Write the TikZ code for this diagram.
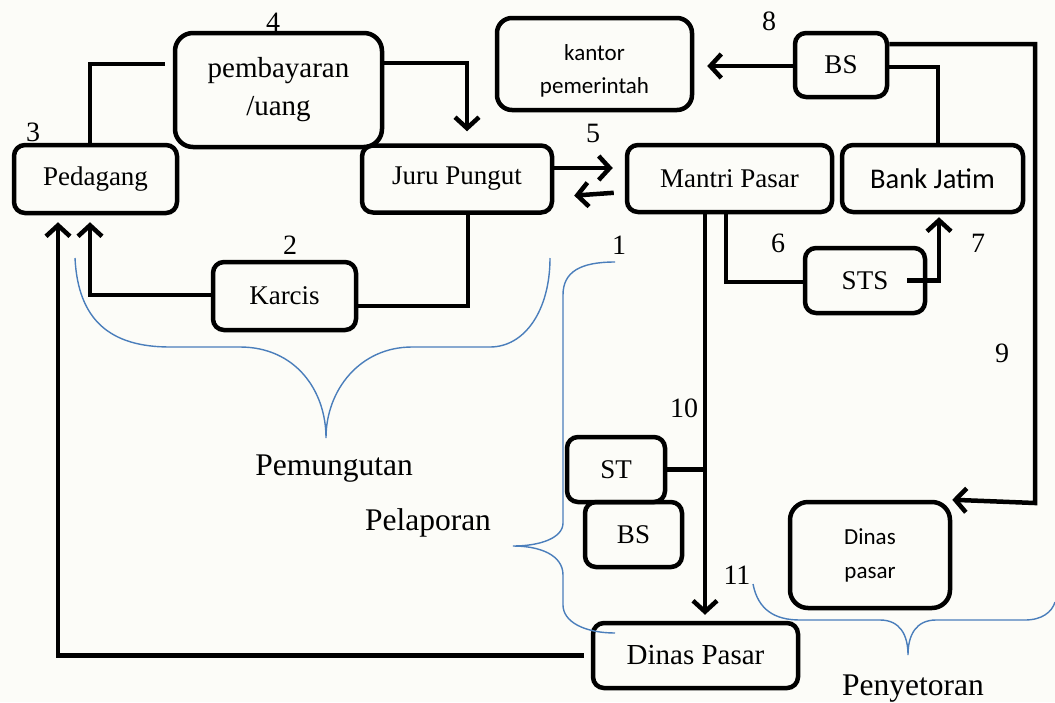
\documentclass[tikz,border=0pt]{standalone}
\usepackage{fontspec}
\setmainfont{Liberation Serif}
\newfontfamily\calibri{Carlito}
\usetikzlibrary{arrows.meta}
\definecolor{biru}{RGB}{74,126,187}
\definecolor{latar}{RGB}{252,252,248}

\begin{document}
\begin{tikzpicture}[x=1pt, y=-1pt,
  kotak/.style={draw, line width=4.5pt, rounded corners=11pt, inner sep=0pt, align=center, font=\fontsize{27}{32}\selectfont},
  garis/.style={draw, line width=4.5pt},
  panah/.style={garis, -{Straight Barb[length=11pt,width=24pt]}},
  kurung/.style={draw=biru, line width=1.4pt},
  angka/.style={font=\fontsize{28}{30}\selectfont, inner sep=0pt},
  judul/.style={font=\fontsize{31.5}{34}\selectfont, inner sep=0pt, anchor=base}]

\useasboundingbox (0,0) rectangle (1055,702);
\fill[latar] (0,0) rectangle (1055,702);

% kotak-kotak
\node[kotak, minimum width=163pt, minimum height=68pt] (pedagang) at (95.5,179) {Pedagang};
\node[kotak, minimum width=207pt, minimum height=114pt, rounded corners=18pt, font=\fontsize{29}{38}\selectfont] (bayar) at (278.5,90) {pembayaran\\/uang};
\node[kotak, minimum width=190pt, minimum height=67pt] (juru) at (457,179) {Juru Pungut};
\node[kotak, minimum width=205pt, minimum height=67pt] (mantri) at (729.5,178.5) {Mantri Pasar};
\node[kotak, minimum width=181pt, minimum height=67pt, font=\calibri\fontsize{28.5}{32}\selectfont] (bank) at (932.5,178.5) {Bank Jatim};
\node[kotak, minimum width=195pt, minimum height=92pt, rounded corners=15pt, font=\calibri\fontsize{23}{33}\selectfont] (kantor) at (594.5,64) {\rule{0pt}{30pt}kantor\\pemerintah};
\node[kotak, minimum width=92pt, minimum height=64pt] (bsatas) at (841,65) {BS};
\node[kotak, minimum width=143pt, minimum height=68pt] (karcis) at (284.5,296) {Karcis};
\node[kotak, minimum width=120pt, minimum height=65pt] (sts) at (865,280.5) {STS};
\node[kotak, minimum width=98pt, minimum height=65pt] (st) at (616,469.5) {ST};
\node[kotak, minimum width=97pt, minimum height=65pt] (bsbawah) at (633.5,534.5) {BS};
\node[kotak, minimum width=160pt, minimum height=106pt, rounded corners=18pt, font=\calibri\fontsize{23}{34}\selectfont] (dinaskecil) at (870,555) {Dinas\\pasar};
\node[kotak, minimum width=205pt, minimum height=65pt, font=\fontsize{29}{32}\selectfont] (dinas) at (695.5,655.5) {Dinas Pasar};

% nomor alur
\foreach \angka/\px/\py in {4/273/22, 3/33/132, 2/290/245, 5/593/133, 1/619/245, 6/778/243, 7/978/243, 8/769/21, 9/1002/353, 10/684/408, 11/737/575}
  \node[angka] (n\angka) at (\px,\py) {\angka};

% alur
\draw[garis, shorten >=8pt] (pedagang.north -| 90,0) |- (bayar.west |- 0,64);
\draw[panah, shorten >=12pt] (bayar.east |- 0,63) -| (juru.north -| 467,0);
\draw[garis] (juru.south -| 468,0) |- (karcis.east |- 0,306);
\draw[panah, shorten >=7pt] (karcis.west |- 0,295) -| (pedagang.south -| 90,0);
\draw[panah, shorten <=7pt, shorten >=7pt] (dinas.west) -| (pedagang.south -| 58,0);
\draw[panah, shorten >=12pt] (juru.east |- 0,168) -- (mantri.west |- 0,168);
\draw[panah, shorten <=11pt, shorten >=20pt] (mantri.west |- 0,192) -- (juru.east |- 0,197);
\draw[panah, shorten >=6pt] (mantri.south -| 705,0) -- (dinas.north -| 705,0);
\draw[garis] (st.east) -- (st.east -| 705,0);
\draw[garis] (mantri.south -| 726,0) |- (sts.west |- 0,282);
\draw[panah, shorten >=3pt] (sts.east -| 907,0) -| (bank.south -| 939,0);
\draw[garis] (bank.north -| 938,0) |- (bsatas.east |- 0,67);
\draw[panah, shorten >=13pt] (bsatas.west |- 0,66) -- (kantor.east |- 0,66);
\coordinate (belok) at (1035,503);
\draw[panah] (bsatas.east |- 0,44) -| (belok) -- (dinaskecil.north east);

% kurung kurawal
\draw[kurung] (75,258) .. controls (78,320) and (110,347) .. (170,347) -- (240,347)
  .. controls (295,347) and (326,390) .. (326,438)
  .. controls (326,390) and (360,347) .. (412,347) -- (490,347)
  .. controls (525,347) and (550,310) .. (550,258);
\draw[kurung] (615,262) .. controls (580,262) and (563,272) .. (563,295) -- (563,523)
  .. controls (563,538) and (540,546) .. (513,546)
  .. controls (540,546) and (563,555) .. (563,575) -- (563,605)
  .. controls (563,622) and (585,633) .. (615,633);
\draw[kurung] (753,584) .. controls (758,610) and (775,620) .. (800,620) -- (880,620)
  .. controls (900,620) and (908,635) .. (908,655)
  .. controls (908,635) and (916,620) .. (936,620) -- (1025,620)
  .. controls (1042,620) and (1052,612) .. (1055,602);

\node[judul] (pungut) at (334,475) {Pemungutan};
\node[judul] (lapor) at (428,530) {Pelaporan};
\node[judul] (setor) at (913,695) {Penyetoran};

\end{tikzpicture}
\end{document}
